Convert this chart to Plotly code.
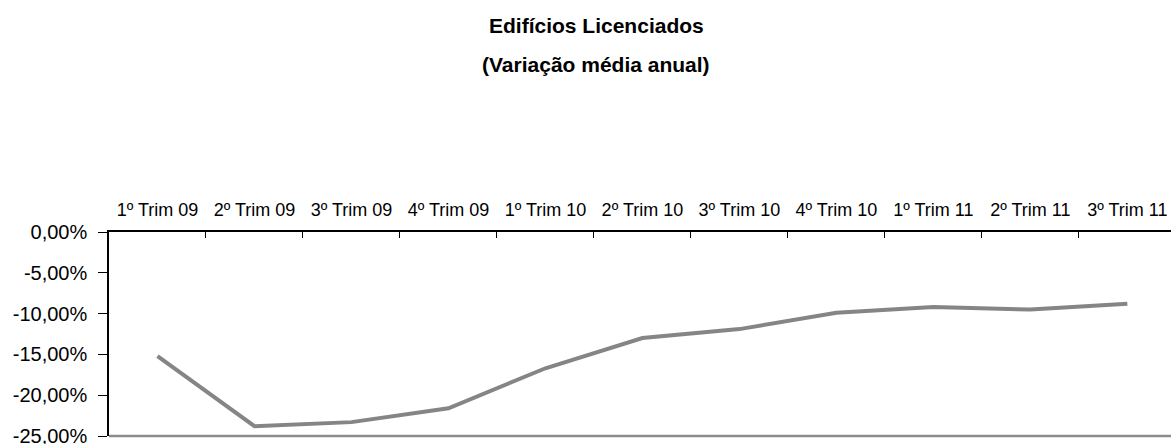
import plotly.graph_objects as go

categories = ["1º Trim 09", "2º Trim 09", "3º Trim 09", "4º Trim 09",
              "1º Trim 10", "2º Trim 10", "3º Trim 10", "4º Trim 10",
              "1º Trim 11", "2º Trim 11", "3º Trim 11"]
values = [-15.2, -23.8, -23.3, -21.6, -16.7, -13.0, -11.9, -9.9, -9.2, -9.5, -8.8]

y_tickvals = [0, -5, -10, -15, -20, -25]
y_ticktext = ["0,00%", "-5,00%", "-10,00%", "-15,00%", "-20,00%", "-25,00%"]

title_line1 = "<b>Edifícios Licenciados</b>"
title_line2 = "<b>(Variação média anual)</b>"

FONT = "Liberation Sans, Arial, sans-serif"

fig = go.Figure()
fig.add_trace(go.Scatter(
    x=categories, y=values, mode="lines",
    line=dict(color="#858585", width=4),
    hoverinfo="skip", showlegend=False,
))

fig.update_layout(
    width=1171, height=444,
    margin=dict(l=109, r=0, t=232, b=8),
    paper_bgcolor="white", plot_bgcolor="white",
    font=dict(family=FONT, size=19, color="#000000"),
    showlegend=False,
)

fig.update_xaxes(
    type="category", side="top", automargin=False,
    range=[-0.5, 10.45],
    tickson="boundaries", ticks="inside", ticklen=6, tickcolor="#000000", tickwidth=1,
    showline=True, linecolor="#000000", linewidth=1.5,
    showgrid=False, zeroline=False,
    ticklabelstandoff=7, ticklabeloverflow="allow",
    tickfont=dict(family=FONT, size=18, color="#000000"),
)
fig.update_yaxes(
    range=[-25, 0], automargin=False,
    tickvals=y_tickvals, ticktext=y_ticktext,
    ticks="outside", ticklen=9, tickcolor="#000000", tickwidth=1,
    showline=True, linecolor="#000000", linewidth=1.5,
    showgrid=False, zeroline=False,
    ticklabelstandoff=7, ticklabeloverflow="allow",
    tickfont=dict(family=FONT, size=20, color="#000000"),
)

# bottom border of plot area (grey)
fig.add_shape(type="line", xref="paper", yref="paper", x0=0, x1=1, y0=0, y1=0,
              line=dict(color="#8c8c8c", width=2.5))

# two-line bold title
fig.add_annotation(text=title_line1, xref="paper", yref="paper", x=(596 - 109) / 1062, y=(436 - 25) / 204,
                   xanchor="center", yanchor="middle", showarrow=False,
                   font=dict(family=FONT, size=21, color="#000000"))
fig.add_annotation(text=title_line2, xref="paper", yref="paper", x=(596 - 109) / 1062, y=(436 - 64) / 204,
                   xanchor="center", yanchor="middle", showarrow=False,
                   font=dict(family=FONT, size=21, color="#000000"))

fig.write_html("out.html", config={"displayModeBar": False},
               post_script="document.body.style.margin='0';document.body.style.overflow='hidden';")
